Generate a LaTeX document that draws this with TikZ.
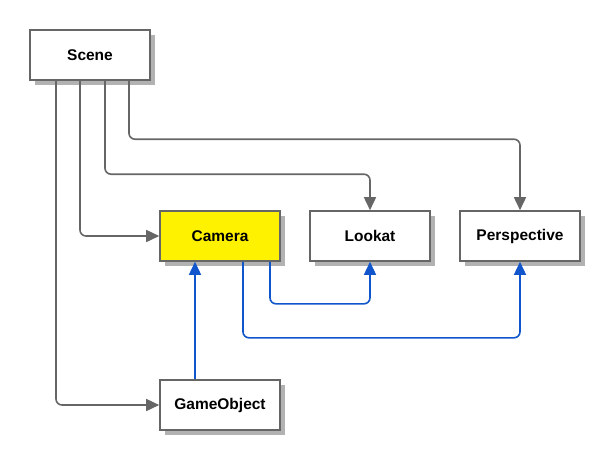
\documentclass[tikz,border=0pt]{standalone}
\usepackage{fontspec}
\setsansfont{Liberation Sans}
\usetikzlibrary{arrows.meta,shadows}
\definecolor{linegray}{HTML}{666666}
\definecolor{lineblue}{HTML}{1155CC}

\begin{document}
\begin{tikzpicture}[x=1pt,y=-1pt,-{Triangle[length=13pt,width=12pt]},line width=1.6pt,rounded corners=6pt,
  box/.style={rectangle,draw=linegray,line width=1.6pt,fill=white,minimum width=120pt,minimum height=50pt,inner sep=0pt,
    font=\sffamily\bfseries\fontsize{15.5}{18}\selectfont,rounded corners=0pt,
    drop shadow={shadow xshift=5pt,shadow yshift=-5pt,fill=black!30,opacity=1}},
  gray line/.style={draw=linegray},
  blue line/.style={draw=lineblue}]
  \useasboundingbox (0,0) rectangle (600,451);
  \node[box] (scene) at (90,55) {Scene};
  \node[box,fill=yellow] (camera) at (220,236) {Camera};
  \node[box] (lookat) at (370,236) {Lookat};
  \node[box] (persp) at (520,236) {Perspective};
  \node[box] (gameobj) at (220,405) {GameObject};

  % from scene
  \draw[gray line] ([xshift=-34pt]scene.south) |- (gameobj.west);
  \draw[gray line] ([xshift=-10pt]scene.south) |- (camera.west);
  \draw[gray line] ([xshift=15pt]scene.south) |- ([yshift=36pt]lookat.north) -- (lookat.north);
  \draw[gray line] ([xshift=39pt]scene.south) |- ([yshift=71pt]persp.north) -- (persp.north);

  % from camera / gameobject
  \draw[blue line] ([xshift=-25pt]gameobj.north) -- ([xshift=-25pt]camera.south);
  \draw[blue line] ([xshift=50pt]camera.south) |- ([yshift=-42pt]lookat.south) -- (lookat.south);
  \draw[blue line] ([xshift=23pt]camera.south) |- ([yshift=-76pt]persp.south) -- (persp.south);
\end{tikzpicture}
\end{document}
